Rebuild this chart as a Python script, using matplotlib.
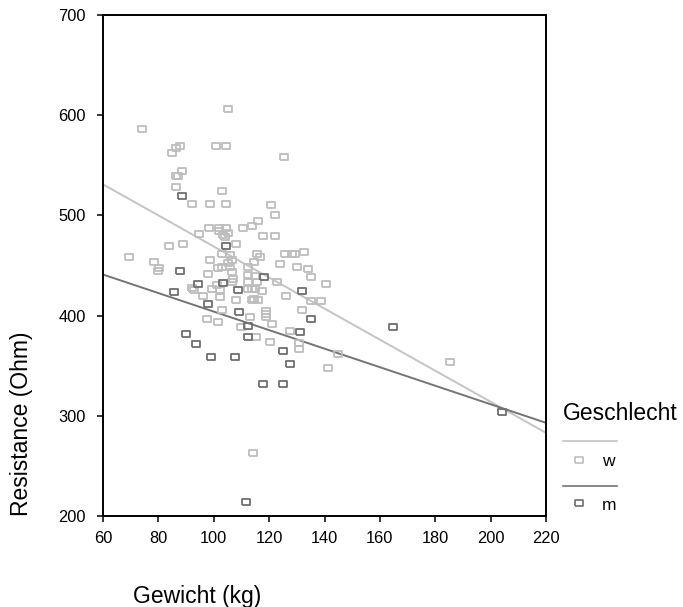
import matplotlib
matplotlib.use("Agg")
import matplotlib.pyplot as plt
from matplotlib.lines import Line2D
import numpy as np

plt.rcParams['font.family'] = ['Liberation Sans', 'DejaVu Sans']

# Weight (kg) and resistance (Ohm), women
w_gewicht = [105, 74, 84.8, 86.2, 87.9, 100.7, 104.4, 88.4, 86.4, 87.2, 86.2, 102.8,
             92.1, 98.5, 104.3, 98.3, 101.9, 104.6, 110.5, 113.7, 116, 94.5, 102, 103.5,
             105, 104, 84, 89, 108, 69.5, 78.4, 80.3, 80, 98.6, 102.8, 105.8, 106.5,
             105.2, 105.8, 106.5, 112.5, 102.8, 101.6, 98, 112.5, 112.5, 107, 106.5,
             101, 92, 93, 99.2, 102.2, 102.2, 113.7, 113.7, 96.2, 107.9, 102.8, 97.4,
             101.4, 109.8, 114.3, 117.9, 122.3, 115.8, 116.7, 125.7, 128.1, 129.3,
             132.6, 114.6, 123.9, 130.2, 133.9, 135.3, 140.4, 115, 115.5, 112.2, 115,
             117.4, 114.5, 116.1, 123, 126.1, 135.1, 138.9, 118.8, 118.8, 118.8, 131.7,
             113.1, 120.9, 115.2, 127.5, 120.3, 130.9, 130.9, 144.8, 141.1, 185.3,
             125.3, 120.6, 122]
w_resistance = [606, 586, 562.6, 567, 569, 569, 569, 544.6, 539, 539, 528, 524.7,
                511, 511, 511, 487, 487, 487, 487, 489, 494, 481, 484, 480,
                482, 478, 469.5, 471, 471, 458.2, 453, 448, 445, 455.5, 461.5, 460.5, 455.5,
                452, 448.8, 443.8, 449, 448.8, 448, 442, 440.5, 434, 437, 434,
                431, 427.2, 425.5, 427, 425.5, 419, 427, 415.5, 419.5, 415.5, 405.6, 396.3,
                393.3, 389, 262.6, 479.7, 479.7, 461.5, 458.8, 461.2, 461.2, 461.2,
                463.2, 453.5, 451.5, 448.2, 446.5, 438.2, 431.8, 439.8, 433.2, 426.2, 426.2,
                424.9, 416.3, 415.3, 433.5, 419.9, 414.9, 414.9, 405, 401.6, 398.9, 405.6,
                398.3, 391.6, 378.3, 384.9, 373.3, 372.3, 366.4, 361.7, 347.4, 353.4,
                558, 510, 500]

# Weight (kg) and resistance (Ohm), men
m_gewicht = [88.4, 104.3, 87.8, 94.2, 103.5, 108.6, 85.6, 98, 109.2, 112.5, 89.9, 93.5,
             112.2, 99.1, 107.8, 111.6, 118.1, 131.8, 135.3, 131.1, 125.1, 127.5, 164.8,
             117.9, 125.1, 204]
m_resistance = [519.4, 469.5, 444.8, 431.5, 432.3, 426, 423.3, 411.6, 403.6, 390, 381.6,
                371.7, 378.3, 358.4, 358.4, 214, 438.2, 424.9, 396.6, 383.3, 365, 351.7,
                388.4, 331.7, 331.7, 303.5]

# Linear fits (intercept, slope) per group
w_fit = [624.0, -1.55]
m_fit = [496.5, -0.925]

x_ticks = [60, 80, 100, 120, 140, 160, 180, 200, 220]
y_ticks = [200, 300, 400, 500, 600, 700]

col_w = '#bdbdbd'
col_m = '#6e6e6e'
line_w = '#c4c4c4'
line_m = '#747474'

rect = [(-1, -0.72), (1, -0.72), (1, 0.72), (-1, 0.72), (-1, -0.72)]

fig = plt.figure(figsize=(6.83, 6.07), dpi=100)
ax = fig.add_axes([103 / 683, 1 - 516 / 607, 443 / 683, 501 / 607])

xs = np.array([60, 220])
ax.plot(xs, w_fit[0] + w_fit[1] * xs, color=line_w, lw=1.4, zorder=2)
ax.plot(xs, m_fit[0] + m_fit[1] * xs, color=line_m, lw=1.4, zorder=2)

ax.plot(w_gewicht, w_resistance, ls='none', marker=rect, ms=6.4, mfc='none',
        mec=col_w, mew=1.3, zorder=3)
ax.plot(m_gewicht, m_resistance, ls='none', marker=rect, ms=6.4, mfc='none',
        mec=col_m, mew=1.3, zorder=4)

ax.set_xlim(60, 220)
ax.set_ylim(200, 700)
ax.set_xticks(x_ticks)
ax.set_yticks(y_ticks)
ax.tick_params(direction='out', length=4.5, width=1.1, labelsize=11.8)
ax.tick_params(axis='y', pad=8)
ax.tick_params(axis='x', pad=6)
for s in ax.spines.values():
    s.set_linewidth(1.4)
    s.set_color('black')

fig.text(22 / 683, 1 - 516 / 607, 'Resistance (Ohm)', rotation=90,
         ha='center', va='bottom', fontsize=16.5)
fig.text(133 / 683, 1 - 597 / 607, 'Gewicht (kg)', ha='left', va='center', fontsize=16.5)

# Legend
fig.text(563 / 683, 1 - 413 / 607, 'Geschlecht', ha='left', va='center', fontsize=16.5)
for y_line, y_mark, c_line, c_mark, lab in [(440.5, 460, line_w, col_w, 'w'),
                                            (485.5, 503, line_m, col_m, 'm')]:
    fig.add_artist(Line2D([563 / 683, 617 / 683], [1 - y_line / 607] * 2,
                          color=c_line, lw=1.2, transform=fig.transFigure))
    fig.add_artist(Line2D([579 / 683], [1 - y_mark / 607], ls='none', marker=rect,
                          ms=5.5, mfc='none', mec=c_mark, mew=1.2,
                          transform=fig.transFigure))
    fig.text(602 / 683, 1 - (y_mark + 2) / 607, lab, ha='left', va='center', fontsize=12.5)

fig.savefig('out.png', dpi=100)
